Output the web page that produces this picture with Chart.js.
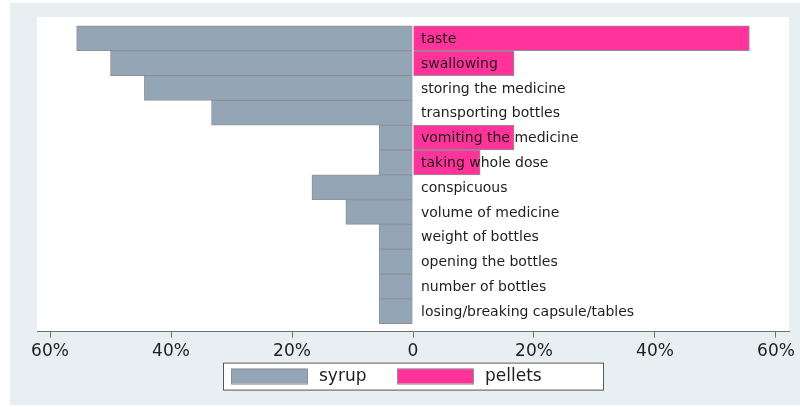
<!DOCTYPE html>
<html>
<head>
<meta charset="utf-8">
<script src="https://cdn.jsdelivr.net/npm/chart.js@4.4.1/dist/chart.umd.min.js"></script>
<style>
  html, body { margin: 0; padding: 0; background: #fff; }
</style>
</head>
<body>
<canvas id="chart" width="800" height="407"></canvas>
<script>
// problems reported per formulation, % of respondents
const categories = [
    'taste', 'swallowing', 'storing the medicine', 'transporting bottles',
    'vomiting the medicine', 'taking whole dose', 'conspicuous', 'volume of medicine',
    'weight of bottles', 'opening the bottles', 'number of bottles', 'losing/breaking capsule/tables'
];
const syrup = [55.6, 50.0, 44.4, 33.3, 5.6, 5.6, 16.7, 11.1, 5.6, 5.6, 5.6, 5.6];
const pellets = [55.6, 16.7, 0, 0, 16.7, 11.1, 0, 0, 0, 0, 0, 0];
const xTicks = [-60, -40, -20, 0, 20, 40, 60];

const GRAY = '#94a6b6';
const PINK = '#ff3399';
const EDGE = '#8e9296';
const FONT = '"DejaVu Sans", Verdana, sans-serif';

// syrup goes to the left, pellets to the right
const syrupPoints = syrup.map((v, i) => ({ x: -v, y: i }));
const pelletPoints = pellets.map((v, i) => ({ x: v, y: i }));

const backdrop = {
    id: 'backdrop',
    beforeDraw(chart) {
        const ctx = chart.ctx;
        const a = chart.chartArea;
        ctx.save();
        ctx.fillStyle = '#e8eff3';
        ctx.fillRect(10, 3, 790, 402);
        ctx.fillStyle = '#ffffff';
        ctx.fillRect(a.left, a.top, a.right - a.left, a.bottom - a.top);
        ctx.restore();
    }
};

const rowLabels = {
    id: 'rowLabels',
    afterDatasetsDraw(chart) {
        const ctx = chart.ctx;
        const xs = chart.scales.x;
        const ys = chart.scales.y;
        ctx.save();
        ctx.font = '14px ' + FONT;
        ctx.fillStyle = '#1e1e1e';
        ctx.textBaseline = 'middle';
        ctx.textAlign = 'left';
        categories.forEach((c, i) => {
            ctx.fillText(c, xs.getPixelForValue(0) + 8, ys.getPixelForValue(i) + 1);
        });
        ctx.restore();
    }
};

// stata-style legend box under the axis
const legendBox = {
    id: 'legendBox',
    afterDraw(chart) {
        const ctx = chart.ctx;
        const a = chart.chartArea;
        const left = Math.round((a.left + a.right) / 2) - 190;
        const top = a.bottom + 31;
        ctx.save();
        ctx.fillStyle = '#fff';
        ctx.fillRect(left, top, 380, 27);
        ctx.strokeStyle = '#555';
        ctx.lineWidth = 1;
        ctx.strokeRect(left + 0.5, top + 0.5, 380, 27);
        ctx.font = '17px ' + FONT;
        ctx.textBaseline = 'middle';
        ctx.textAlign = 'left';
        chart.data.datasets.forEach((ds, k) => {
            const x = left + 8 + k * 166;
            ctx.fillStyle = ds.backgroundColor;
            ctx.fillRect(x, top + 6, 76, 15);
            ctx.strokeStyle = ds.borderColor;
            ctx.strokeRect(x + 0.5, top + 6.5, 76, 15);
            ctx.fillStyle = '#1e1e1e';
            ctx.fillText(ds.label, x + 88, top + 14);
        });
        ctx.restore();
    }
};

new Chart(document.getElementById('chart'), {
    type: 'bar',
    data: {
        datasets: [
            {
                label: 'syrup',
                data: syrupPoints,
                backgroundColor: GRAY,
                borderColor: EDGE,
                borderWidth: 1,
                grouped: false,
                barPercentage: 1,
                categoryPercentage: 1
            },
            {
                label: 'pellets',
                data: pelletPoints,
                backgroundColor: PINK,
                borderColor: EDGE,
                borderWidth: 1,
                grouped: false,
                barPercentage: 1,
                categoryPercentage: 1
            }
        ]
    },
    options: {
        indexAxis: 'y',
        responsive: false,
        animation: false,
        layout: {
            padding: { left: 37, right: 11, top: 17, bottom: 41 }
        },
        scales: {
            x: {
                type: 'linear',
                min: -62.15,
                max: 62.15,
                afterBuildTicks(scale) {
                    scale.ticks = xTicks.map(v => ({ value: v }));
                },
                border: { display: true, color: '#6f6f6f', width: 1 },
                grid: {
                    drawOnChartArea: false,
                    drawTicks: true,
                    tickLength: 6,
                    tickColor: '#6f6f6f'
                },
                ticks: {
                    padding: 4,
                    color: '#1e1e1e',
                    font: { family: FONT, size: 17 },
                    callback: v => (v === 0 ? '0' : Math.abs(v) + '%')
                }
            },
            y: {
                type: 'linear',
                display: false,
                reverse: true,
                offset: false,
                min: -0.86,
                max: 11.82,
                ticks: { display: false },
                afterBuildTicks(scale) {
                    scale.ticks = categories.map((c, i) => ({ value: i }));
                }
            }
        },
        plugins: {
            legend: { display: false },
            tooltip: { enabled: false }
        }
    },
    plugins: [backdrop, rowLabels, legendBox]
});
</script>
</body>
</html>
